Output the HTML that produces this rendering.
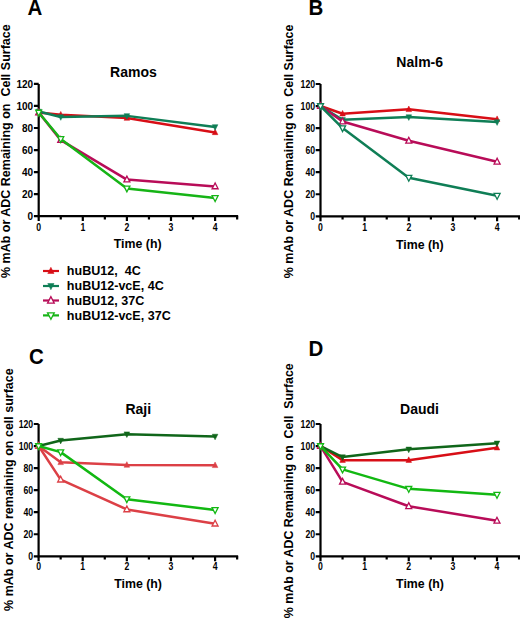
<!DOCTYPE html>
<html><head><meta charset="utf-8"><style>
html,body{margin:0;padding:0;background:#fff;width:520px;height:620px;overflow:hidden}
svg{display:block}
text{font-family:"Liberation Sans", sans-serif;fill:#000}
</style></head><body>
<svg width="520" height="620" viewBox="0 0 520 620">
<rect width="520" height="620" fill="#fff"/>
<text transform="translate(27.5,14.6) scale(1,1.07)" font-size="20.5" font-weight="bold">A</text>
<text x="133.4" y="76.8" font-size="14" font-weight="bold" text-anchor="middle">Ramos</text>
<text transform="translate(9.5,151.2) rotate(-90)" x="0" y="0" font-size="12.5" font-weight="bold" text-anchor="middle" xml:space="preserve">% mAb or ADC Remaining on  Cell Surface</text>
<path d="M38.70,83.90 V216.20 M37.60,216.20 H238.15" stroke="#000" stroke-width="2.2" fill="none"/>
<path d="M33.90,216.20 H38.7 M33.90,194.15 H38.7 M33.90,172.10 H38.7 M33.90,150.05 H38.7 M33.90,128.00 H38.7 M33.90,105.95 H38.7 M33.90,83.90 H38.7 M38.70,216.2 V221.10 M60.75,216.2 V219.50 M82.80,216.2 V221.10 M104.85,216.2 V219.50 M126.90,216.2 V221.10 M148.95,216.2 V219.50 M171.00,216.2 V221.10 M193.05,216.2 V219.50 M215.10,216.2 V221.10 M237.15,216.2 V219.50" stroke="#000" stroke-width="2.2" fill="none"/>
<text transform="translate(33.10,220.30) scale(1,1.07)" font-size="10" font-weight="bold" text-anchor="end">0</text>
<text transform="translate(33.10,198.25) scale(1,1.07)" font-size="10" font-weight="bold" text-anchor="end">20</text>
<text transform="translate(33.10,176.20) scale(1,1.07)" font-size="10" font-weight="bold" text-anchor="end">40</text>
<text transform="translate(33.10,154.15) scale(1,1.07)" font-size="10" font-weight="bold" text-anchor="end">60</text>
<text transform="translate(33.10,132.10) scale(1,1.07)" font-size="10" font-weight="bold" text-anchor="end">80</text>
<text transform="translate(33.10,110.05) scale(1,1.07)" font-size="10" font-weight="bold" text-anchor="end">100</text>
<text transform="translate(33.10,88.00) scale(1,1.07)" font-size="10" font-weight="bold" text-anchor="end">120</text>
<text transform="translate(38.70,230.70) scale(1,1.18)" font-size="8.7" font-weight="bold" text-anchor="middle">0</text>
<text transform="translate(82.80,230.70) scale(1,1.18)" font-size="8.7" font-weight="bold" text-anchor="middle">1</text>
<text transform="translate(126.90,230.70) scale(1,1.18)" font-size="8.7" font-weight="bold" text-anchor="middle">2</text>
<text transform="translate(171.00,230.70) scale(1,1.18)" font-size="8.7" font-weight="bold" text-anchor="middle">3</text>
<text transform="translate(215.10,230.70) scale(1,1.18)" font-size="8.7" font-weight="bold" text-anchor="middle">4</text>
<text x="137.7" y="248.4" font-size="12.35" font-weight="bold" text-anchor="middle">Time (h)</text>
<polyline points="38.70,112.56 60.75,114.77 126.90,118.08 215.10,132.41" fill="none" stroke="#d80e16" stroke-width="2.5" stroke-linejoin="round"/>
<polygon points="38.70,109.20 35.90,114.80 41.50,114.80" fill="#d80e16" stroke="#d80e16" stroke-width="0.5"/>
<polygon points="60.75,111.41 57.95,117.01 63.55,117.01" fill="#d80e16" stroke="#d80e16" stroke-width="0.5"/>
<polygon points="126.90,114.72 124.10,120.32 129.70,120.32" fill="#d80e16" stroke="#d80e16" stroke-width="0.5"/>
<polygon points="215.10,129.05 212.30,134.65 217.90,134.65" fill="#d80e16" stroke="#d80e16" stroke-width="0.5"/>
<polyline points="38.70,111.46 60.75,116.97 126.90,115.87 215.10,126.90" fill="none" stroke="#0f7e56" stroke-width="2.5" stroke-linejoin="round"/>
<polygon points="38.70,114.82 35.90,109.22 41.50,109.22" fill="#0f7e56" stroke="#0f7e56" stroke-width="0.5"/>
<polygon points="60.75,120.33 57.95,114.73 63.55,114.73" fill="#0f7e56" stroke="#0f7e56" stroke-width="0.5"/>
<polygon points="126.90,119.23 124.10,113.63 129.70,113.63" fill="#0f7e56" stroke="#0f7e56" stroke-width="0.5"/>
<polygon points="215.10,130.26 212.30,124.66 217.90,124.66" fill="#0f7e56" stroke="#0f7e56" stroke-width="0.5"/>
<polyline points="38.70,112.56 60.75,140.13 126.90,179.60 215.10,186.43" fill="none" stroke="#b80c58" stroke-width="2.5" stroke-linejoin="round"/>
<polygon points="38.70,109.08 35.70,114.88 41.70,114.88" fill="#fff" stroke="#b80c58" stroke-width="1.3" stroke-linejoin="miter"/>
<polygon points="60.75,136.65 57.75,142.45 63.75,142.45" fill="#fff" stroke="#b80c58" stroke-width="1.3" stroke-linejoin="miter"/>
<polygon points="126.90,176.12 123.90,181.92 129.90,181.92" fill="#fff" stroke="#b80c58" stroke-width="1.3" stroke-linejoin="miter"/>
<polygon points="215.10,182.95 212.10,188.75 218.10,188.75" fill="#fff" stroke="#b80c58" stroke-width="1.3" stroke-linejoin="miter"/>
<polyline points="38.70,112.56 60.75,139.02 126.90,188.42 215.10,198.01" fill="none" stroke="#16b416" stroke-width="2.5" stroke-linejoin="round"/>
<polygon points="38.70,116.04 35.70,110.24 41.70,110.24" fill="#fff" stroke="#16b416" stroke-width="1.3" stroke-linejoin="miter"/>
<polygon points="60.75,142.50 57.75,136.70 63.75,136.70" fill="#fff" stroke="#16b416" stroke-width="1.3" stroke-linejoin="miter"/>
<polygon points="126.90,191.90 123.90,186.10 129.90,186.10" fill="#fff" stroke="#16b416" stroke-width="1.3" stroke-linejoin="miter"/>
<polygon points="215.10,201.49 212.10,195.69 218.10,195.69" fill="#fff" stroke="#16b416" stroke-width="1.3" stroke-linejoin="miter"/>
<text transform="translate(308.5,14.6) scale(1,1.07)" font-size="20.5" font-weight="bold">B</text>
<text x="419.7" y="66.7" font-size="14" font-weight="bold" text-anchor="middle">Nalm-6</text>
<text transform="translate(293.4,151.4) rotate(-90)" x="0" y="0" font-size="12.5" font-weight="bold" text-anchor="middle" xml:space="preserve">% mAb or ADC Remaining on  Cell Surface</text>
<path d="M320.50,84.00 V216.30 M319.40,216.30 H520.17" stroke="#000" stroke-width="2.2" fill="none"/>
<path d="M315.70,216.30 H320.5 M315.70,194.25 H320.5 M315.70,172.20 H320.5 M315.70,150.15 H320.5 M315.70,128.10 H320.5 M315.70,106.05 H320.5 M315.70,84.00 H320.5 M320.50,216.3 V221.20 M342.57,216.3 V219.60 M364.65,216.3 V221.20 M386.73,216.3 V219.60 M408.80,216.3 V221.20 M430.88,216.3 V219.60 M452.95,216.3 V221.20 M475.02,216.3 V219.60 M497.10,216.3 V221.20 M519.17,216.3 V219.60" stroke="#000" stroke-width="2.2" fill="none"/>
<text transform="translate(315.10,220.18) scale(1,1.16)" font-size="8.7" font-weight="bold" text-anchor="end">0</text>
<text transform="translate(315.10,198.13) scale(1,1.16)" font-size="8.7" font-weight="bold" text-anchor="end">20</text>
<text transform="translate(315.10,176.08) scale(1,1.16)" font-size="8.7" font-weight="bold" text-anchor="end">40</text>
<text transform="translate(315.10,154.03) scale(1,1.16)" font-size="8.7" font-weight="bold" text-anchor="end">60</text>
<text transform="translate(315.10,131.98) scale(1,1.16)" font-size="8.7" font-weight="bold" text-anchor="end">80</text>
<text transform="translate(315.10,109.93) scale(1,1.16)" font-size="8.7" font-weight="bold" text-anchor="end">100</text>
<text transform="translate(315.10,87.88) scale(1,1.16)" font-size="8.7" font-weight="bold" text-anchor="end">120</text>
<text transform="translate(320.50,230.80) scale(1,1.16)" font-size="8.7" font-weight="bold" text-anchor="middle">0</text>
<text transform="translate(364.65,230.80) scale(1,1.16)" font-size="8.7" font-weight="bold" text-anchor="middle">1</text>
<text transform="translate(408.80,230.80) scale(1,1.16)" font-size="8.7" font-weight="bold" text-anchor="middle">2</text>
<text transform="translate(452.95,230.80) scale(1,1.16)" font-size="8.7" font-weight="bold" text-anchor="middle">3</text>
<text transform="translate(497.10,230.80) scale(1,1.16)" font-size="8.7" font-weight="bold" text-anchor="middle">4</text>
<text x="419.8" y="248.6" font-size="12.35" font-weight="bold" text-anchor="middle">Time (h)</text>
<polyline points="320.50,106.05 342.57,113.77 408.80,109.36 497.10,119.28" fill="none" stroke="#d80e16" stroke-width="2.5" stroke-linejoin="round"/>
<polygon points="320.50,102.69 317.70,108.29 323.30,108.29" fill="#d80e16" stroke="#d80e16" stroke-width="0.5"/>
<polygon points="342.57,110.41 339.77,116.01 345.38,116.01" fill="#d80e16" stroke="#d80e16" stroke-width="0.5"/>
<polygon points="408.80,106.00 406.00,111.60 411.60,111.60" fill="#d80e16" stroke="#d80e16" stroke-width="0.5"/>
<polygon points="497.10,115.92 494.30,121.52 499.90,121.52" fill="#d80e16" stroke="#d80e16" stroke-width="0.5"/>
<polyline points="320.50,106.05 342.57,119.83 408.80,117.08 497.10,122.04" fill="none" stroke="#0f7e56" stroke-width="2.5" stroke-linejoin="round"/>
<polygon points="320.50,109.41 317.70,103.81 323.30,103.81" fill="#0f7e56" stroke="#0f7e56" stroke-width="0.5"/>
<polygon points="342.57,123.19 339.77,117.59 345.38,117.59" fill="#0f7e56" stroke="#0f7e56" stroke-width="0.5"/>
<polygon points="408.80,120.44 406.00,114.84 411.60,114.84" fill="#0f7e56" stroke="#0f7e56" stroke-width="0.5"/>
<polygon points="497.10,125.40 494.30,119.80 499.90,119.80" fill="#0f7e56" stroke="#0f7e56" stroke-width="0.5"/>
<polyline points="320.50,106.05 342.57,121.49 408.80,140.78 497.10,161.73" fill="none" stroke="#b80c58" stroke-width="2.5" stroke-linejoin="round"/>
<polygon points="320.50,102.57 317.50,108.37 323.50,108.37" fill="#fff" stroke="#b80c58" stroke-width="1.3" stroke-linejoin="miter"/>
<polygon points="342.57,118.01 339.57,123.81 345.57,123.81" fill="#fff" stroke="#b80c58" stroke-width="1.3" stroke-linejoin="miter"/>
<polygon points="408.80,137.30 405.80,143.10 411.80,143.10" fill="#fff" stroke="#b80c58" stroke-width="1.3" stroke-linejoin="miter"/>
<polygon points="497.10,158.25 494.10,164.05 500.10,164.05" fill="#fff" stroke="#b80c58" stroke-width="1.3" stroke-linejoin="miter"/>
<polyline points="320.50,106.05 342.57,128.10 408.80,177.71 497.10,195.79" fill="none" stroke="#0f7e56" stroke-width="2.5" stroke-linejoin="round"/>
<polygon points="320.50,109.53 317.50,103.73 323.50,103.73" fill="#fff" stroke="#0f7e56" stroke-width="1.3" stroke-linejoin="miter"/>
<polygon points="342.57,131.58 339.57,125.78 345.57,125.78" fill="#fff" stroke="#0f7e56" stroke-width="1.3" stroke-linejoin="miter"/>
<polygon points="408.80,181.19 405.80,175.39 411.80,175.39" fill="#fff" stroke="#0f7e56" stroke-width="1.3" stroke-linejoin="miter"/>
<polygon points="497.10,199.27 494.10,193.47 500.10,193.47" fill="#fff" stroke="#0f7e56" stroke-width="1.3" stroke-linejoin="miter"/>
<text transform="translate(29,364) scale(1,1.07)" font-size="20.5" font-weight="bold">C</text>
<text x="138.3" y="414" font-size="14" font-weight="bold" text-anchor="middle">Raji</text>
<text transform="translate(12.9,489.6) rotate(-90)" x="0" y="0" font-size="12.5" font-weight="bold" text-anchor="middle" xml:space="preserve">% mAb or ADC remaining on cell surface</text>
<path d="M38.60,424.00 V556.30 M37.50,556.30 H238.14" stroke="#000" stroke-width="2.2" fill="none"/>
<path d="M33.80,556.30 H38.6 M33.80,534.25 H38.6 M33.80,512.20 H38.6 M33.80,490.15 H38.6 M33.80,468.10 H38.6 M33.80,446.05 H38.6 M33.80,424.00 H38.6 M38.60,556.3 V561.20 M60.66,556.3 V559.60 M82.72,556.3 V561.20 M104.78,556.3 V559.60 M126.84,556.3 V561.20 M148.90,556.3 V559.60 M170.96,556.3 V561.20 M193.02,556.3 V559.60 M215.08,556.3 V561.20 M237.14,556.3 V559.60" stroke="#000" stroke-width="2.2" fill="none"/>
<text transform="translate(33.20,560.18) scale(1,1.16)" font-size="8.7" font-weight="bold" text-anchor="end">0</text>
<text transform="translate(33.20,538.13) scale(1,1.16)" font-size="8.7" font-weight="bold" text-anchor="end">20</text>
<text transform="translate(33.20,516.08) scale(1,1.16)" font-size="8.7" font-weight="bold" text-anchor="end">40</text>
<text transform="translate(33.20,494.03) scale(1,1.16)" font-size="8.7" font-weight="bold" text-anchor="end">60</text>
<text transform="translate(33.20,471.98) scale(1,1.16)" font-size="8.7" font-weight="bold" text-anchor="end">80</text>
<text transform="translate(33.20,449.93) scale(1,1.16)" font-size="8.7" font-weight="bold" text-anchor="end">100</text>
<text transform="translate(33.20,427.88) scale(1,1.16)" font-size="8.7" font-weight="bold" text-anchor="end">120</text>
<text transform="translate(38.60,570.40) scale(1,1.16)" font-size="8.7" font-weight="bold" text-anchor="middle">0</text>
<text transform="translate(82.72,570.40) scale(1,1.16)" font-size="8.7" font-weight="bold" text-anchor="middle">1</text>
<text transform="translate(126.84,570.40) scale(1,1.16)" font-size="8.7" font-weight="bold" text-anchor="middle">2</text>
<text transform="translate(170.96,570.40) scale(1,1.16)" font-size="8.7" font-weight="bold" text-anchor="middle">3</text>
<text transform="translate(215.08,570.40) scale(1,1.16)" font-size="8.7" font-weight="bold" text-anchor="middle">4</text>
<text x="138.1" y="587.6" font-size="12.35" font-weight="bold" text-anchor="middle">Time (h)</text>
<polyline points="38.60,446.05 60.66,462.37 126.84,465.01 215.08,465.34" fill="none" stroke="#dc4046" stroke-width="2.5" stroke-linejoin="round"/>
<polygon points="38.60,442.69 35.80,448.29 41.40,448.29" fill="#dc4046" stroke="#dc4046" stroke-width="0.5"/>
<polygon points="60.66,459.01 57.86,464.61 63.46,464.61" fill="#dc4046" stroke="#dc4046" stroke-width="0.5"/>
<polygon points="126.84,461.65 124.04,467.25 129.64,467.25" fill="#dc4046" stroke="#dc4046" stroke-width="0.5"/>
<polygon points="215.08,461.98 212.28,467.58 217.88,467.58" fill="#dc4046" stroke="#dc4046" stroke-width="0.5"/>
<polyline points="38.60,446.05 60.66,440.54 126.84,434.14 215.08,436.46" fill="none" stroke="#10661a" stroke-width="2.5" stroke-linejoin="round"/>
<polygon points="38.60,449.41 35.80,443.81 41.40,443.81" fill="#10661a" stroke="#10661a" stroke-width="0.5"/>
<polygon points="60.66,443.90 57.86,438.30 63.46,438.30" fill="#10661a" stroke="#10661a" stroke-width="0.5"/>
<polygon points="126.84,437.50 124.04,431.90 129.64,431.90" fill="#10661a" stroke="#10661a" stroke-width="0.5"/>
<polygon points="215.08,439.82 212.28,434.22 217.88,434.22" fill="#10661a" stroke="#10661a" stroke-width="0.5"/>
<polyline points="38.60,446.05 60.66,479.68 126.84,509.44 215.08,523.67" fill="none" stroke="#dc4046" stroke-width="2.5" stroke-linejoin="round"/>
<polygon points="38.60,442.57 35.60,448.37 41.60,448.37" fill="#fff" stroke="#dc4046" stroke-width="1.3" stroke-linejoin="miter"/>
<polygon points="60.66,476.20 57.66,482.00 63.66,482.00" fill="#fff" stroke="#dc4046" stroke-width="1.3" stroke-linejoin="miter"/>
<polygon points="126.84,505.96 123.84,511.76 129.84,511.76" fill="#fff" stroke="#dc4046" stroke-width="1.3" stroke-linejoin="miter"/>
<polygon points="215.08,520.19 212.08,525.99 218.08,525.99" fill="#fff" stroke="#dc4046" stroke-width="1.3" stroke-linejoin="miter"/>
<polyline points="38.60,446.05 60.66,452.11 126.84,499.19 215.08,509.99" fill="none" stroke="#12b812" stroke-width="2.5" stroke-linejoin="round"/>
<polygon points="38.60,449.53 35.60,443.73 41.60,443.73" fill="#fff" stroke="#12b812" stroke-width="1.3" stroke-linejoin="miter"/>
<polygon points="60.66,455.59 57.66,449.79 63.66,449.79" fill="#fff" stroke="#12b812" stroke-width="1.3" stroke-linejoin="miter"/>
<polygon points="126.84,502.67 123.84,496.87 129.84,496.87" fill="#fff" stroke="#12b812" stroke-width="1.3" stroke-linejoin="miter"/>
<polygon points="215.08,513.47 212.08,507.67 218.08,507.67" fill="#fff" stroke="#12b812" stroke-width="1.3" stroke-linejoin="miter"/>
<text transform="translate(308.5,355.8) scale(1,1.07)" font-size="20.5" font-weight="bold">D</text>
<text x="419.5" y="413.6" font-size="14" font-weight="bold" text-anchor="middle">Daudi</text>
<text transform="translate(293.2,490.8) rotate(-90)" x="0" y="0" font-size="12.4" font-weight="bold" text-anchor="middle" xml:space="preserve">% mAb or ADC Remaining on  Cell  Surface</text>
<path d="M320.50,424.00 V556.30 M319.40,556.30 H520.04" stroke="#000" stroke-width="2.2" fill="none"/>
<path d="M315.70,556.30 H320.5 M315.70,534.25 H320.5 M315.70,512.20 H320.5 M315.70,490.15 H320.5 M315.70,468.10 H320.5 M315.70,446.05 H320.5 M315.70,424.00 H320.5 M320.50,556.3 V561.20 M342.56,556.3 V559.60 M364.62,556.3 V561.20 M386.68,556.3 V559.60 M408.74,556.3 V561.20 M430.80,556.3 V559.60 M452.86,556.3 V561.20 M474.92,556.3 V559.60 M496.98,556.3 V561.20 M519.04,556.3 V559.60" stroke="#000" stroke-width="2.2" fill="none"/>
<text transform="translate(315.10,560.18) scale(1,1.16)" font-size="8.7" font-weight="bold" text-anchor="end">0</text>
<text transform="translate(315.10,538.13) scale(1,1.16)" font-size="8.7" font-weight="bold" text-anchor="end">20</text>
<text transform="translate(315.10,516.08) scale(1,1.16)" font-size="8.7" font-weight="bold" text-anchor="end">40</text>
<text transform="translate(315.10,494.03) scale(1,1.16)" font-size="8.7" font-weight="bold" text-anchor="end">60</text>
<text transform="translate(315.10,471.98) scale(1,1.16)" font-size="8.7" font-weight="bold" text-anchor="end">80</text>
<text transform="translate(315.10,449.93) scale(1,1.16)" font-size="8.7" font-weight="bold" text-anchor="end">100</text>
<text transform="translate(315.10,427.88) scale(1,1.16)" font-size="8.7" font-weight="bold" text-anchor="end">120</text>
<text transform="translate(320.50,570.40) scale(1,1.16)" font-size="8.7" font-weight="bold" text-anchor="middle">0</text>
<text transform="translate(364.62,570.40) scale(1,1.16)" font-size="8.7" font-weight="bold" text-anchor="middle">1</text>
<text transform="translate(408.74,570.40) scale(1,1.16)" font-size="8.7" font-weight="bold" text-anchor="middle">2</text>
<text transform="translate(452.86,570.40) scale(1,1.16)" font-size="8.7" font-weight="bold" text-anchor="middle">3</text>
<text transform="translate(496.98,570.40) scale(1,1.16)" font-size="8.7" font-weight="bold" text-anchor="middle">4</text>
<text x="420.0" y="587.6" font-size="12.35" font-weight="bold" text-anchor="middle">Time (h)</text>
<polyline points="320.50,446.05 342.56,460.16 408.74,460.16 496.98,447.70" fill="none" stroke="#d80e16" stroke-width="2.5" stroke-linejoin="round"/>
<polygon points="320.50,442.69 317.70,448.29 323.30,448.29" fill="#d80e16" stroke="#d80e16" stroke-width="0.5"/>
<polygon points="342.56,456.80 339.76,462.40 345.36,462.40" fill="#d80e16" stroke="#d80e16" stroke-width="0.5"/>
<polygon points="408.74,456.80 405.94,462.40 411.54,462.40" fill="#d80e16" stroke="#d80e16" stroke-width="0.5"/>
<polygon points="496.98,444.34 494.18,449.94 499.78,449.94" fill="#d80e16" stroke="#d80e16" stroke-width="0.5"/>
<polyline points="320.50,446.05 342.56,457.07 408.74,449.36 496.98,443.29" fill="none" stroke="#10661a" stroke-width="2.5" stroke-linejoin="round"/>
<polygon points="320.50,449.41 317.70,443.81 323.30,443.81" fill="#10661a" stroke="#10661a" stroke-width="0.5"/>
<polygon points="342.56,460.43 339.76,454.83 345.36,454.83" fill="#10661a" stroke="#10661a" stroke-width="0.5"/>
<polygon points="408.74,452.72 405.94,447.12 411.54,447.12" fill="#10661a" stroke="#10661a" stroke-width="0.5"/>
<polygon points="496.98,446.65 494.18,441.05 499.78,441.05" fill="#10661a" stroke="#10661a" stroke-width="0.5"/>
<polyline points="320.50,446.05 342.56,481.88 408.74,506.25 496.98,520.80" fill="none" stroke="#b80c58" stroke-width="2.5" stroke-linejoin="round"/>
<polygon points="320.50,442.57 317.50,448.37 323.50,448.37" fill="#fff" stroke="#b80c58" stroke-width="1.3" stroke-linejoin="miter"/>
<polygon points="342.56,478.40 339.56,484.20 345.56,484.20" fill="#fff" stroke="#b80c58" stroke-width="1.3" stroke-linejoin="miter"/>
<polygon points="408.74,502.77 405.74,508.57 411.74,508.57" fill="#fff" stroke="#b80c58" stroke-width="1.3" stroke-linejoin="miter"/>
<polygon points="496.98,517.32 493.98,523.12 499.98,523.12" fill="#fff" stroke="#b80c58" stroke-width="1.3" stroke-linejoin="miter"/>
<polyline points="320.50,446.05 342.56,469.42 408.74,488.83 496.98,494.78" fill="none" stroke="#12b812" stroke-width="2.5" stroke-linejoin="round"/>
<polygon points="320.50,449.53 317.50,443.73 323.50,443.73" fill="#fff" stroke="#12b812" stroke-width="1.3" stroke-linejoin="miter"/>
<polygon points="342.56,472.90 339.56,467.10 345.56,467.10" fill="#fff" stroke="#12b812" stroke-width="1.3" stroke-linejoin="miter"/>
<polygon points="408.74,492.31 405.74,486.51 411.74,486.51" fill="#fff" stroke="#12b812" stroke-width="1.3" stroke-linejoin="miter"/>
<polygon points="496.98,498.26 493.98,492.46 499.98,492.46" fill="#fff" stroke="#12b812" stroke-width="1.3" stroke-linejoin="miter"/>
<path d="M43,271 H59" stroke="#d80e16" stroke-width="2.2"/>
<polygon points="50.90,267.24 47.76,273.51 54.04,273.51" fill="#d80e16" stroke="#d80e16" stroke-width="0.5"/>
<text x="66.8" y="275.4" font-size="12.55" font-weight="bold" xml:space="preserve">huBU12,  4C</text>
<path d="M43,286 H59" stroke="#0f7e56" stroke-width="2.2"/>
<polygon points="50.90,289.76 47.76,283.49 54.04,283.49" fill="#0f7e56" stroke="#0f7e56" stroke-width="0.5"/>
<text x="66.8" y="290.4" font-size="12.55" font-weight="bold" xml:space="preserve">huBU12-vcE, 4C</text>
<path d="M43,300.5 H59" stroke="#b80c58" stroke-width="2.2"/>
<polygon points="50.90,296.60 47.54,303.10 54.26,303.10" fill="#fff" stroke="#b80c58" stroke-width="1.3" stroke-linejoin="miter"/>
<text x="66.8" y="304.9" font-size="12.55" font-weight="bold" xml:space="preserve">huBU12, 37C</text>
<path d="M43,315.4 H59" stroke="#16b416" stroke-width="2.2"/>
<polygon points="50.90,319.30 47.54,312.80 54.26,312.80" fill="#fff" stroke="#16b416" stroke-width="1.3" stroke-linejoin="miter"/>
<text x="66.8" y="319.79999999999995" font-size="12.55" font-weight="bold" xml:space="preserve">huBU12-vcE, 37C</text>
</svg></body></html>
